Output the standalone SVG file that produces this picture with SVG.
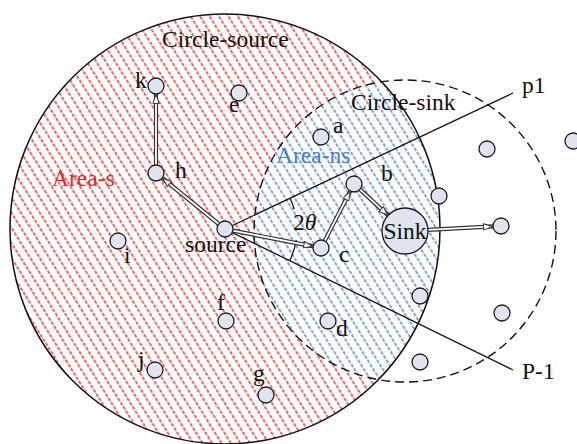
<svg xmlns="http://www.w3.org/2000/svg" width="577" height="444" viewBox="0 0 577 444">
<style>
.t{font-family:"Liberation Serif","Times New Roman",serif;font-size:23.5px;fill:#111}
.nd{fill:#dfe4ef;stroke:#1a1a1a;stroke-width:1.3}
.ao{fill:none;stroke:#333;stroke-width:4.2;stroke-linecap:butt}
.ai{fill:none;stroke:#fff;stroke-width:1.8;marker-end:url(#ah)}
.ln{fill:none;stroke:#111;stroke-width:1.3}
</style>
<defs>
<pattern id="hr" width="8" height="5" patternUnits="userSpaceOnUse" patternTransform="rotate(-32)">
<line x1="1" y1="0" x2="1" y2="3.4" stroke="#e52521" stroke-width="1.4"/>
</pattern>
<pattern id="hb" width="8" height="5" patternUnits="userSpaceOnUse" patternTransform="rotate(-32)">
<line x1="1" y1="0" x2="1" y2="3.4" stroke="#4a7cc9" stroke-width="1.4"/>
</pattern>
<clipPath id="cs"><circle cx="225" cy="229" r="215"/></clipPath>
<marker id="ah" viewBox="0 0 10 8" refX="10" refY="4" markerWidth="10" markerHeight="8" markerUnits="userSpaceOnUse" orient="auto">
<path d="M0.6,0.8 L9.4,4 L0.6,7.2 Z" fill="#fff" stroke="#333" stroke-width="1"/>
</marker>
</defs>
<rect width="577" height="444" fill="#fff"/>
<g id="areas">
<circle cx="225" cy="229" r="215" fill="url(#hr)"/>
<g clip-path="url(#cs)">
<circle cx="405" cy="231" r="151" fill="#fff"/>
<circle cx="405" cy="231" r="151" fill="url(#hb)"/>
</g>
<circle cx="225" cy="229" r="215" fill="none" stroke="#111" stroke-width="1.5"/>
<circle cx="405" cy="231" r="151" fill="none" stroke="#111" stroke-width="1.4" stroke-dasharray="9 5"/>
</g>
<g id="connectors">
<path class="ln" d="M225,229 L513,93"/>
<path class="ln" d="M225,229 L513,370"/>
<path class="ln" d="M290.1,198.3 A72,72 0 0 1 294.2,209.2"/>
<path class="ln" d="M296.2,239.8 A72,72 0 0 1 289.7,260.7"/>
<path class="ao" d="M218.8,224 L162.2,178"/><path class="ai" d="M218.8,224 L162.2,178"/>
<path class="ao" d="M156,165 L156,94"/><path class="ai" d="M156,165 L156,94"/>
<path class="ao" d="M232.8,230.6 L313.2,246.4"/><path class="ai" d="M232.8,230.6 L313.2,246.4"/>
<path class="ao" d="M324.7,240.9 L350.3,191.1"/><path class="ai" d="M324.7,240.9 L350.3,191.1"/>
<path class="ao" d="M359.9,189.4 L388.1,215.4"/><path class="ai" d="M359.9,189.4 L388.1,215.4"/>
<path class="ao" d="M428,229.8 L493,226.4"/><path class="ai" d="M428,229.8 L493,226.4"/>
</g>
<g id="node-source"><circle class="nd" cx="225" cy="229" r="8"/><text class="t" x="185" y="252">source</text></g>
<g id="node-h"><circle class="nd" cx="156" cy="173" r="8"/><text class="t" x="175" y="178">h</text></g>
<g id="node-k"><circle class="nd" cx="156" cy="86" r="8"/><text class="t" x="135" y="88">k</text></g>
<g id="node-e"><circle class="nd" cx="239" cy="93" r="8"/><text class="t" x="229" y="112">e</text></g>
<g id="node-a"><circle class="nd" cx="321" cy="137" r="8"/><text class="t" x="333" y="133">a</text></g>
<g id="node-b"><circle class="nd" cx="354" cy="184" r="8"/><text class="t" x="381" y="181">b</text></g>
<g id="node-c"><circle class="nd" cx="321" cy="248" r="8"/><text class="t" x="339" y="262">c</text></g>
<g id="node-d"><circle class="nd" cx="328" cy="321" r="8"/><text class="t" x="336" y="336">d</text></g>
<g id="node-f"><circle class="nd" cx="226" cy="321" r="8"/><text class="t" x="217" y="310">f</text></g>
<g id="node-g"><circle class="nd" cx="266" cy="395" r="8"/><text class="t" x="253" y="381">g</text></g>
<g id="node-i"><circle class="nd" cx="118" cy="241" r="8"/><text class="t" x="124" y="263">i</text></g>
<g id="node-j"><circle class="nd" cx="155" cy="370" r="8"/><text class="t" x="138" y="367">j</text></g>
<g id="node-sink"><circle class="nd" cx="405" cy="231" r="23"/><text class="t" x="405" y="239" text-anchor="middle">Sink</text></g>
<g id="node-n1"><circle class="nd" cx="439" cy="196" r="8"/></g>
<g id="node-n2"><circle class="nd" cx="487" cy="149" r="8"/></g>
<g id="node-n3"><circle class="nd" cx="573" cy="141" r="8"/></g>
<g id="node-n4"><circle class="nd" cx="501" cy="226" r="8"/></g>
<g id="node-n5"><circle class="nd" cx="420" cy="296" r="8"/></g>
<g id="node-n6"><circle class="nd" cx="502" cy="313" r="8"/></g>
<g id="node-n7"><circle class="nd" cx="420" cy="362" r="8"/></g>
<g id="labels">
<text class="t" x="162" y="47">Circle-source</text>
<text class="t" x="351" y="110">Circle-sink</text>
<text class="t" x="52" y="186" style="fill:#e52521">Area-s</text>
<text class="t" x="276" y="163" style="fill:#4a7cc9">Area-ns</text>
<text class="t" x="522" y="93">p1</text>
<text class="t" x="522" y="379">P-1</text>
<text class="t" x="293" y="230">2<tspan font-style="italic">θ</tspan></text>
</g>
</svg>
